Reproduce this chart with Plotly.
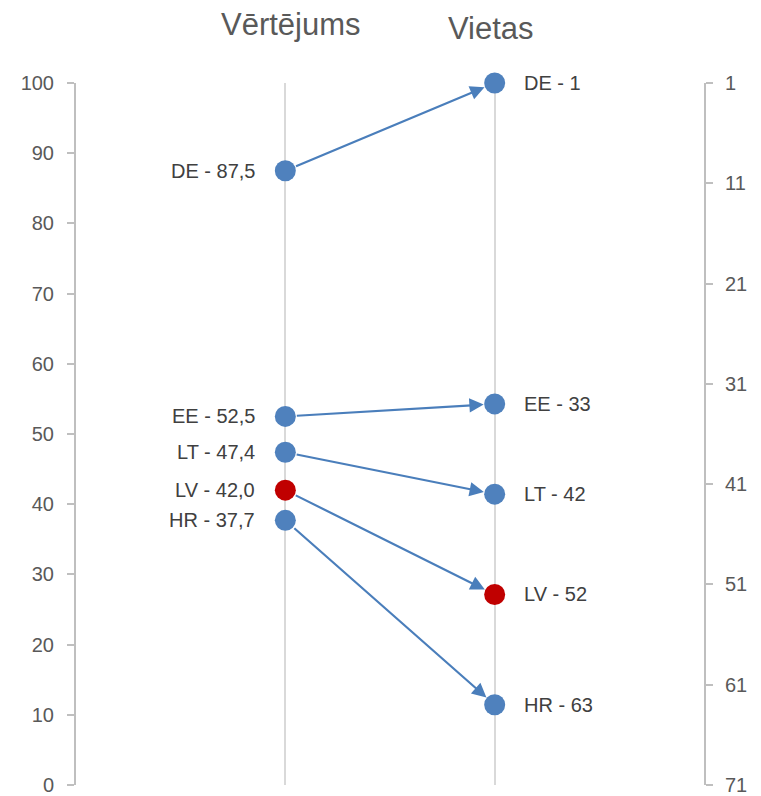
import plotly.graph_objects as go

countries = ["DE", "EE", "LT", "LV", "HR"]
scores = [87.5, 52.5, 47.4, 42.0, 37.7]
ranks = [1, 33, 42, 52, 63]
highlight = "LV"
col_titles = ["Vērtējums", "Vietas"]
left_ticks = list(range(0, 101, 10))
right_ticks = [1, 11, 21, 31, 41, 51, 61, 71]

BLUE = "#4F81BD"
RED = "#C00000"
ARROW = "#4A7EBB"
FONT = "Liberation Sans Narrow, Arial Narrow, Liberation Sans, Arial, sans-serif"
colors = [RED if c == highlight else BLUE for c in countries]

rank_min, rank_max = right_ticks[0], right_ticks[-1]


def rank_to_score_axis(r):
    return (rank_max - r) / (rank_max - rank_min) * 100.0


fig = go.Figure()
fig.add_trace(go.Scatter(
    x=[1] * len(countries), y=scores, mode="markers", cliponaxis=False,
    marker=dict(size=21, color=colors), yaxis="y", hoverinfo="skip", showlegend=False))
fig.add_trace(go.Scatter(
    x=[2] * len(countries), y=ranks, mode="markers", cliponaxis=False,
    marker=dict(size=21, color=colors), yaxis="y2", hoverinfo="skip", showlegend=False))

annotations = []
for c, s, r in zip(countries, scores, ranks):
    annotations.append(dict(
        x=2, y=rank_to_score_axis(r), xref="x", yref="y",
        ax=1, ay=s, axref="x", ayref="y",
        showarrow=True, arrowhead=2, arrowsize=1.3, arrowwidth=2.2,
        arrowcolor=ARROW, standoff=11, startstandoff=10, text=""))
    annotations.append(dict(
        x=1, y=s, xref="x", yref="y", text=f"{c} - {s:.1f}".replace(".", ","),
        showarrow=False, xanchor="right", xshift=-28,
        font=dict(family=FONT, size=20, color="#404040")))
    annotations.append(dict(
        x=2, y=r, xref="x", yref="y2", text=f"{c} - {r}",
        showarrow=False, xanchor="left", xshift=27,
        font=dict(family=FONT, size=20, color="#404040")))

annotations.append(dict(x=1, y=1, xref="x", yref="paper", yshift=59, text=col_titles[0],
                        showarrow=False, xanchor="center", yanchor="middle", xshift=6,
                        font=dict(family=FONT, size=31, color="#595959")))
annotations.append(dict(x=2, y=1, xref="x", yref="paper", yshift=55, text=col_titles[1],
                        showarrow=False, xanchor="center", yanchor="middle", xshift=-4,
                        font=dict(family=FONT, size=31, color="#595959")))

# page body has an 8px margin: shift the figure so the plot area lands at x 76..704, y 83..785
fig.update_layout(
    width=753, height=788,
    margin=dict(l=68, r=57, t=75, b=11, autoexpand=False),
    paper_bgcolor="white", plot_bgcolor="white",
    font=dict(family=FONT, color="#595959"),
    xaxis=dict(range=[0, 3], tickvals=[1, 2], showticklabels=False, showgrid=True,
               gridcolor="#D9D9D9", gridwidth=2, zeroline=False, showline=False, ticks="",
               automargin=False),
    yaxis=dict(range=[0, 100], tickvals=left_ticks, showgrid=False, zeroline=False,
               showline=True, linecolor="#BFBFBF", linewidth=2, ticks="outside",
               ticklen=7, tickcolor="#BFBFBF", tickwidth=2, automargin=False,
               tickfont=dict(family=FONT, size=20, color="#595959"), ticklabelstandoff=9),
    yaxis2=dict(range=[rank_max, rank_min], tickvals=right_ticks, overlaying="y", side="right",
                showgrid=False, zeroline=False, showline=True, linecolor="#BFBFBF", linewidth=2,
                ticks="outside", ticklen=7, tickcolor="#BFBFBF", tickwidth=2, automargin=False,
                tickfont=dict(family=FONT, size=20, color="#595959"), ticklabelstandoff=8),
    annotations=annotations,
)

fig.write_html("out.html")
